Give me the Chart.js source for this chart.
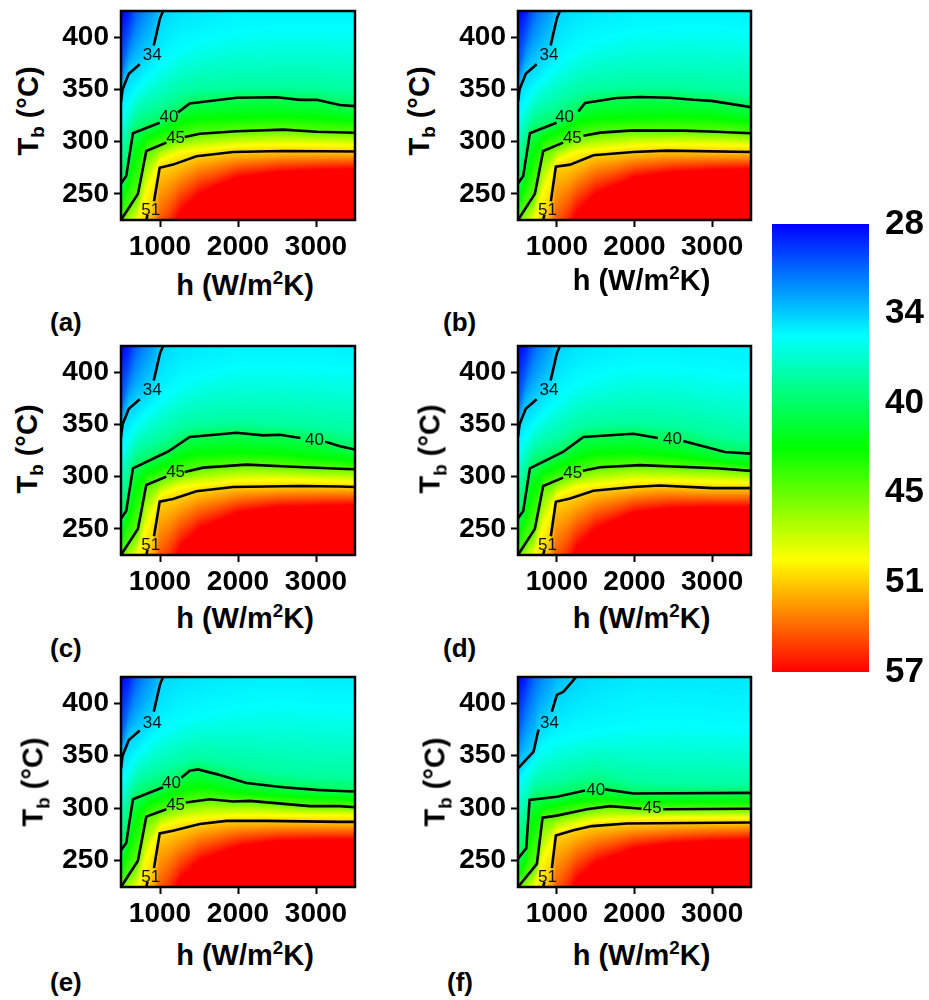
<!DOCTYPE html>
<html>
<head>
<meta charset="utf-8">
<script src="https://cdn.jsdelivr.net/npm/chart.js@4"></script>
<style>
body { margin: 0; background: #fff; font-family: "Liberation Sans", Arial, sans-serif; }
#page { position: relative; width: 929px; height: 1000px; overflow: hidden; }
canvas { position: absolute; }
.title { position: absolute; font-weight: bold; font-size: 29px; color: #000; white-space: nowrap; line-height: 1; }
.title sub, .title sup { font-size: 65%; line-height: 0; }
.tag { position: absolute; font-weight: bold; font-size: 26px; color: #000; line-height: 1; transform: translateY(-50%); }
</style>
</head>
<body>
<div id="page"></div>
<script>
const panelNames = ['a', 'b', 'c', 'd', 'e', 'f'];
const hTicks = [1000, 2000, 3000];
const tbTicks = [250, 300, 350, 400];
const colorLabels = [28, 34, 40, 45, 51, 57];

// contour lines per panel, [h, Tb], null = gap for the label
const contour34Std = [[500,338],[520,350],[600,365],[740,374],null,[920,392],[960,405],[1000,418],[1040,425],[1250,445],[1500,455],[2000,470],[3500,470]];
const contour34F = [[500,338],[700,354],[764,375],null,[936,392],[1000,408],[1086,411],[1235,424],[1500,445],[2000,470],[3500,470]];
const contour34 = [contour34Std, contour34Std, contour34Std, contour34Std, contour34Std, contour34F];

const contour40 = [
  [[500,260],[567,267],[653,308],[996,318],null,[1231,328],[1381,336.6],[1981,342],[2495,342.4],[2794,340],[3008,340],[3308,335],[3500,334]],
  [[500,260],[567,267],[653,308],[996,318],null,[1278,329],[1364,337],[1771,341.7],[2071,342.7],[2456,342],[2756,340],[2991,339],[3500,333]],
  [[500,260],[567,267],[653,308],[1103,324],[1381,338],[1981,342],[2323,339.5],[2537,340],[2800,337],null,[3116,333.5],[3308,329],[3500,326]],
  [[500,260],[567,267],[653,308],[1085,324],[1343,338],[1985,341],[2300,337],null,[2627,334],[2970,327.5],[3162,323.5],[3500,322]],
  [[500,260],[567,267],[653,308.6],[1040,320],null,[1274,329],[1381,335.7],[1488,337],[1724,332.5],[2109,324],[2580,320],[3008,317.5],[3308,316.5],[3500,316]],
  [[500,252],[606,262],[649,308],[1000,311],[1364,317],null,[1621,318],[1985,314],[3500,314.6]]
];

const contour45 = [
  [[500,225],[717,250],[824,291],[1081,299],null,[1317,304.5],[1510,307.6],[1981,310],[2580,311.5],[3008,309.5],[3500,308.5]],
  [[500,225],[717,250],[824,291],[1081,299],null,[1343,305.7],[1557,308.6],[1985,310.8],[2627,310.5],[3055,309.5],[3500,308]],
  [[500,225],[717,250],[824,292],[1081,300],null,[1317,304.5],[1552,308.6],[2109,311.5],[2709,309.5],[3308,307.6],[3500,307]],
  [[500,225],[717,250],[824,291],[1081,299],null,[1334,305.7],[1557,309],[2070,311],[3055,308],[3500,305.5]],
  [[500,225],[717,250],[824,292],[1081,299],null,[1330,305.5],[1638,308.6],[1938,306.4],[2152,307],[2923,302],[3308,302],[3500,301]],
  [[500,225],[743,247],[816,291],[1000,293],[1385,299],[1685,302],[2092,299.5],null,[2370,299],[3500,299.5]]
];

const contour51 = [
  [[500,150],[700,200],[825,225],[840,230],null,[923,243],[996,275],[1167,278],[1467,286],[1938,290],[2580,291],[3500,290.5]],
  [[500,150],[700,200],[825,225],[840,230],null,[923,243],[987,276],[1171,278],[1471,287],[1985,290],[2413,291.4],[3500,290]],
  [[500,150],[700,200],[825,225],[840,230],null,[923,243],[996,276],[1167,278.5],[1467,286],[1938,290],[2794,291],[3308,290.5],[3500,290]],
  [[500,150],[700,200],[825,225],[840,230],null,[923,243],[987,276],[1171,279],[1471,286.5],[1985,290],[2327,291.5],[3012,289],[3500,289]],
  [[500,150],[700,200],[825,225],[840,230],null,[923,243],[996,276],[1167,278.5],[1510,285],[1852,288],[2366,288],[3308,287],[3500,287]],
  [[500,150],[700,200],[825,225],[840,230],null,[936,243],[987,274],[1214,279],[1450,283],[1899,285.5],[3500,286.5]]
];

// where the level numbers sit, [h, Tb] per panel
const label34 = [[900,383],[900,383],[900,383],[900,383],[900,381],[906,381]];
const label40 = [[1116,323],[1100,323],[2980,335],[2490,336],[1146,324],[1500,317]];
const label45 = [[1200,303],[1200,303],[1200,304],[1205,303],[1200,303],[2229,299.6]];
const label51 = [[880,234],[880,234],[880,234],[880,234],[880,234],[880,234]];

// Tb of the shading levels at these h values
const hNodes = [500, 600, 700, 825, 1000, 1250, 1500, 2000, 2500, 3000, 3500];
const iso28 = [425, 435, 470, 520, 560, 600, 640, 700, 700, 700, 700];
const iso31 = [365, 395, 420, 445, 480, 520, 560, 600, 600, 600, 600];
const iso35 = [
  [325,338,350,360,372,388,396,405,408,408,408],
  [325,338,350,360,372,388,396,405,408,408,406],
  [325,338,350,360,372,388,396,405,406,404,402],
  [325,338,350,360,372,388,396,405,404,400,395],
  [325,338,350,360,372,382,388,396,400,397,395],
  [322,335,345,358,365,370,372,378,380,378,375]
];
const iso38 = [
  [290,310,325,330,336,346,350,352,352,352,348],
  [290,310,325,330,336,346,350,352,352,350,346],
  [290,310,325,330,336,346,350,352,350,347,342],
  [290,310,325,330,336,346,350,351,349,341,335],
  [290,310,325,330,336,342,347,340,334,331,330],
  [285,300,320,323,325,330,335,325,322,322,322]
];
const iso42 = [
  [240,262,290,303,309,318,322,323,324,323,320],
  [240,262,290,303,309,318,322,323,324,323,319],
  [240,262,290,303,309,318,322,323,322,318,315],
  [240,262,290,303,309,317,322,323,320,315,311],
  [240,262,290,303,309,317,321,315,312,310,309],
  [235,250,290,300,303,307,309,307,306,306,306]
];
const iso49 = [
  [200,215,222,252,282,290,292,296,297,297,296],
  [200,215,222,252,282,290,292,296,297,297,296],
  [200,215,222,252,282,290,292,296,297,296,295],
  [200,215,222,252,282,290,292,296,296,295,294],
  [200,215,222,252,282,288,290,293,293,293,293],
  [200,215,222,252,278,284,288,290,291,291,291]
];
const iso57 = [
  [100,110,130,150,190,232,250,266,271,273,274],
  [100,110,130,150,190,232,250,266,271,273,274],
  [100,110,130,150,190,232,250,266,271,272,273],
  [100,110,130,150,190,232,250,266,270,271,271],
  [100,110,130,150,190,232,250,264,269,270,270],
  [100,110,130,150,190,232,248,262,267,269,270]
];

// plot boxes
const plotLeft = [121, 518, 121, 518, 121, 518];
const plotTop = [11, 11, 346, 346, 677, 677];
const plotWidth = [234, 233, 234, 233, 234, 233];
const plotHeight = [209, 209, 209, 209, 210, 210];

Chart.defaults.font.family = '"Liberation Sans", Arial, sans-serif';
Chart.defaults.color = '#000';
const page = document.getElementById('page');

function jet(t) {
  const stops = [[0,0,255], [0,255,255], [0,255,0], [255,255,0], [255,0,0]];
  const p = Math.max(0, Math.min(0.9999, (t - 28) / 29)) * 4;
  const i = Math.floor(p), f = p - i;
  return stops[i].map((c, k) => c + (stops[i + 1][k] - c) * f);
}

function tbAt(line, h) {
  const pts = line.filter(p => p);
  for (let i = 1; i < pts.length; i++) {
    if (h <= pts[i][0]) {
      const f = (h - pts[i - 1][0]) / (pts[i][0] - pts[i - 1][0]);
      return pts[i - 1][1] + (pts[i][1] - pts[i - 1][1]) * f;
    }
  }
  return pts[pts.length - 1][1];
}

function toLine(values) {
  return values.map((v, i) => [hNodes[i], v]);
}

function toPoints(line) {
  let lastH = 500;
  return line.map(p => {
    if (!p) return { x: lastH + 1, y: null };
    lastH = p[0];
    return { x: p[0], y: p[1] };
  });
}

// colours the plot box from the level lines, through the chart scales
const fieldPlugin = {
  id: 'field',
  beforeDatasetsDraw(chart, args, opts) {
    const area = chart.chartArea;
    const w = Math.ceil(area.width), h = Math.ceil(area.height);
    const off = document.createElement('canvas');
    off.width = w; off.height = h;
    const octx = off.getContext('2d');
    const img = octx.createImageData(w, h);
    for (let px = 0; px < w; px++) {
      const hVal = chart.scales.x.getValueForPixel(area.left + px + 0.5);
      const tbs = opts.levels.map(l => tbAt(l[1], hVal));
      for (let py = 0; py < h; py++) {
        const tb = chart.scales.y.getValueForPixel(area.top + py + 0.5);
        let temp = 57;
        for (let k = 0; k < tbs.length; k++) {
          if (tb >= tbs[k]) {
            if (k === 0) { temp = opts.levels[0][0]; break; }
            const f = (tbs[k - 1] - tb) / Math.max(tbs[k - 1] - tbs[k], 0.001);
            temp = opts.levels[k - 1][0] + (opts.levels[k][0] - opts.levels[k - 1][0]) * f;
            break;
          }
        }
        const c = jet(temp), o = (py * w + px) * 4;
        img.data[o] = c[0]; img.data[o + 1] = c[1]; img.data[o + 2] = c[2]; img.data[o + 3] = 255;
      }
    }
    octx.putImageData(img, 0, 0);
    chart.ctx.drawImage(off, area.left, area.top, area.width, area.height);
  }
};

// level numbers and the box around the plot
const frontPlugin = {
  id: 'front',
  afterDatasetsDraw(chart, args, opts) {
    const ctx = chart.ctx, area = chart.chartArea;
    ctx.save();
    ctx.fillStyle = '#111';
    ctx.font = '17px "Liberation Sans", Arial, sans-serif';
    ctx.textAlign = 'center';
    ctx.textBaseline = 'middle';
    opts.labels.forEach(l => {
      ctx.fillText(l[0], chart.scales.x.getPixelForValue(l[1][0]), chart.scales.y.getPixelForValue(l[1][1]));
    });
    ctx.strokeStyle = '#000';
    ctx.lineWidth = 2.5;
    ctx.strokeRect(area.left, area.top, area.width, area.height);
    ctx.restore();
  }
};

function addCanvas(left, top, width, height) {
  const c = document.createElement('canvas');
  c.width = width; c.height = height;
  c.style.left = left + 'px';
  c.style.top = top + 'px';
  page.appendChild(c);
  return c;
}

function addText(html, cls, left, top, extra) {
  const d = document.createElement('div');
  d.className = cls;
  d.innerHTML = html;
  d.style.left = left + 'px';
  d.style.top = top + 'px';
  if (extra) d.style.transform = extra;
  page.appendChild(d);
}

function loadPanel(i) {
  const levels = [
    [28, toLine(iso28)], [31, toLine(iso31)], [34, contour34[i]], [35.25, toLine(iso35[i])],
    [38, toLine(iso38[i])], [40, contour40[i]], [42.5, toLine(iso42[i])], [45, contour45[i]],
    [49.75, toLine(iso49[i])], [51, contour51[i]], [57, toLine(iso57[i])]
  ];
  const lines = [contour34[i], contour40[i], contour45[i], contour51[i]];
  const data = {
    datasets: lines.map((line, k) => ({
      label: 'T = ' + [34, 40, 45, 51][k],
      data: toPoints(line),
      showLine: true,
      borderColor: '#000',
      borderWidth: 2.6,
      pointRadius: 0,
      spanGaps: false
    }))
  };
  const config = {
    type: 'scatter',
    data: data,
    options: {
      responsive: false,
      animation: false,
      layout: { padding: { top: 6, right: 14, left: 0, bottom: 0 } },
      plugins: {
        legend: { display: false },
        tooltip: { enabled: false },
        field: { levels: levels },
        front: { labels: [[34, label34[i]], [40, label40[i]], [45, label45[i]], [51, label51[i]]] }
      },
      scales: {
        x: {
          type: 'linear', min: 500, max: 3500,
          afterBuildTicks: s => { s.ticks = hTicks.map(v => ({ value: v })); },
          afterFit: s => { s.height = 44; s.paddingLeft = 0; s.paddingRight = 0; },
          border: { display: false },
          grid: { drawOnChartArea: false, tickLength: 7, tickWidth: 2, tickColor: '#000' },
          ticks: { font: { size: 28, weight: 'bold' }, maxRotation: 0, padding: 3, callback: v => String(v) }
        },
        y: {
          type: 'linear', min: 225, max: 425,
          afterBuildTicks: s => { s.ticks = tbTicks.map(v => ({ value: v })); },
          afterFit: s => { s.width = 70; s.paddingTop = 0; s.paddingBottom = 0; },
          border: { display: false },
          grid: { drawOnChartArea: false, tickLength: 7, tickWidth: 2, tickColor: '#000' },
          ticks: { font: { size: 28, weight: 'bold' }, padding: 5, callback: v => String(v) }
        }
      }
    },
    plugins: [fieldPlugin, frontPlugin]
  };
  const cv = addCanvas(plotLeft[i] - 70, plotTop[i] - 6, 70 + plotWidth[i] + 14, 6 + plotHeight[i] + 44);
  new Chart(cv, config);
}

function loadColorBar() {
  const cv = addCanvas(772, 200, 157, 496);
  new Chart(cv, {
    type: 'bar',
    data: {
      labels: ['T'],
      datasets: [{
        data: [[28, 57]],
        barPercentage: 1,
        categoryPercentage: 1,
        backgroundColor: ctx => {
          const chart = ctx.chart;
          if (!chart.chartArea) return '#000';
          const g = chart.ctx.createLinearGradient(0, chart.chartArea.top, 0, chart.chartArea.bottom);
          ['#0000ff', '#00ffff', '#00ff00', '#ffff00', '#ff0000'].forEach((c, k) => g.addColorStop(k / 4, c));
          return g;
        }
      }]
    },
    options: {
      responsive: false,
      animation: false,
      layout: { padding: { top: 24, bottom: 24, left: 0, right: 0 } },
      plugins: { legend: { display: false }, tooltip: { enabled: false } },
      scales: {
        x: { display: false },
        y: {
          position: 'right', reverse: true, min: 28, max: 57,
          afterBuildTicks: s => { s.ticks = colorLabels.map((v, k) => ({ value: 28 + k * 5.8 })); },
          afterFit: s => { s.width = 60; s.paddingTop = 0; s.paddingBottom = 0; },
          border: { display: false },
          grid: { display: false },
          ticks: { font: { size: 35, weight: 'bold' }, padding: 8, callback: (v, k) => String(colorLabels[k]) }
        }
      }
    }
  });
}

// axis titles and (a)...(f), cx / cy read from the layout
const hTitleY = [285, 280, 618, 618, 955, 955];
const tbTitleX = [28, 419, 27, 430, 33, 435];
const tbTitleY = [111, 111, 449, 449, 782, 782];
const tagX = [50, 443, 50, 443, 50, 447];
const tagY = [322, 322, 648, 648, 982, 982];

function loadstatistics() {
  panelNames.forEach((name, i) => {
    loadPanel(i);
    addText('h (W/m<sup>2</sup>K)', 'title', plotLeft[i] + plotWidth[i] / 2 + 7, hTitleY[i], 'translate(-50%,-50%)');
    addText('T<sub>b</sub> (°C)', 'title', tbTitleX[i], tbTitleY[i], 'translate(-50%,-50%) rotate(-90deg)');
    addText('(' + name + ')', 'tag', tagX[i], tagY[i]);
  });
  loadColorBar();
}
loadstatistics();
</script>
</body>
</html>
